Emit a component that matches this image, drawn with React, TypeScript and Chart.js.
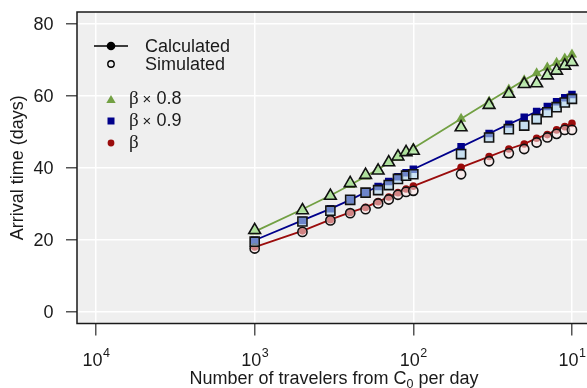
import React, { useEffect, useRef } from 'react';
import { Chart, registerables } from 'chart.js';

Chart.register(...registerables);

// ---- data ----
const travelers = [1000, 500, 333.3, 250, 200, 166.7, 142.9, 125, 111.1, 100, 50, 33.3, 25, 20, 16.7, 14.3, 12.5, 11.1, 10];
const calcBeta08 = [22.3, 28.5, 32.3, 35.2, 37.6, 39.6, 41.3, 42.8, 44.2, 45.4, 53.6, 58.4, 61.7, 64.3, 66.2, 67.8, 69.1, 70.3, 71.4];
const simBeta08 = [22.7, 28.2, 32.2, 35.7, 38.0, 39.2, 41.5, 43.1, 44.3, 44.7, 51.2, 57.4, 60.5, 63.2, 63.4, 65.6, 66.9, 68.3, 69.3];
const calcBeta09 = [19.9, 25.4, 28.6, 31.1, 33.2, 34.8, 36.2, 37.5, 38.6, 39.6, 45.8, 49.5, 52.1, 54.0, 55.6, 57.0, 58.3, 59.4, 60.3];
const simBeta09 = [19.5, 25.1, 28.1, 31.1, 33.1, 33.8, 35.2, 36.9, 37.8, 38.2, 43.8, 48.4, 50.7, 51.7, 53.5, 55.4, 56.8, 58.1, 59.1];
const calcBeta10 = [18.0, 22.5, 25.6, 27.6, 29.0, 30.6, 31.9, 33.1, 34.1, 34.9, 40.1, 43.1, 45.2, 46.6, 48.2, 49.2, 50.5, 51.4, 52.3];
const simBeta10 = [17.6, 22.2, 25.4, 27.4, 28.5, 30.1, 31.2, 32.5, 33.3, 33.6, 38.2, 41.8, 44.0, 45.2, 47.0, 48.4, 49.4, 50.5, 50.5];

const xTickExponents = [4, 3, 2, 1];
const yTicks = [0, 20, 40, 60, 80];
const legendTypeLabels = ['Calculated', 'Simulated'];
const legendBetaFactors = ['0.8', '0.9', ''];

// ---- style ----
const FONT = '"Liberation Sans", Arial, Helvetica, sans-serif';
const SERIF = '"Liberation Serif", "DejaVu Serif", serif';
const BG = '#efefef';
const TEXT = '#1a1a1a';
const GREEN = '#72a043';
const NAVY = '#00008b';
const RED = '#9a0c0c';
const SIM_GREEN = 'rgba(182,232,168,0.88)';
const SIM_BLUE = 'rgba(176,214,240,0.62)';
const SIM_RED = 'rgba(255,232,232,0.55)';

const pts = (ys: number[]) => travelers.map((x, i) => ({ x, y: ys[i] }));

function drawMarker(ctx: CanvasRenderingContext2D, kind: string, x: number, y: number, r: number) {
  ctx.beginPath();
  if (kind === 'triangle') {
    ctx.moveTo(x, y - r);
    ctx.lineTo(x + r * 0.866, y + r * 0.5);
    ctx.lineTo(x - r * 0.866, y + r * 0.5);
    ctx.closePath();
  } else if (kind === 'rect') {
    ctx.rect(x - r, y - r, 2 * r, 2 * r);
  } else {
    ctx.arc(x, y, r, 0, Math.PI * 2);
  }
}

const customPlugin = {
  id: 'customDecor',
  beforeDraw(chart: any) {
    const { ctx, chartArea: a } = chart;
    ctx.save();
    ctx.fillStyle = BG;
    ctx.fillRect(a.left, a.top, a.right - a.left, a.bottom - a.top);
    ctx.restore();
  },
  afterDraw(chart: any) {
    const { ctx, chartArea: a, scales } = chart;
    const xs = scales.x;
    const ys = scales.y;
    ctx.save();
    // plot box
    ctx.strokeStyle = TEXT;
    ctx.lineWidth = 1.5;
    ctx.strokeRect(a.left, a.top, a.right - a.left, a.bottom - a.top);

    ctx.fillStyle = TEXT;

    // y tick labels
    ctx.font = `18px ${FONT}`;
    ctx.textAlign = 'right';
    ctx.textBaseline = 'middle';
    for (const v of yTicks) {
      ctx.fillText(String(v), 53.5, ys.getPixelForValue(v) + 1);
    }

    // x tick labels 10^n
    ctx.textBaseline = 'alphabetic';
    ctx.textAlign = 'left';
    for (const e of xTickExponents) {
      const px = xs.getPixelForValue(Math.pow(10, e));
      ctx.font = `18px ${FONT}`;
      const w1 = ctx.measureText('10').width;
      ctx.font = `12.5px ${FONT}`;
      const w2 = ctx.measureText(String(e)).width;
      const start = px - (w1 + w2) / 2;
      ctx.font = `18px ${FONT}`;
      ctx.fillText('10', start, 366);
      ctx.font = `12.5px ${FONT}`;
      ctx.fillText(String(e), start + w1 + 0.5, 357);
    }

    // x title with subscript
    const p1 = 'Number of travelers from C';
    const p2 = '0';
    const p3 = ' per day';
    ctx.font = `18px ${FONT}`;
    const w1 = ctx.measureText(p1).width;
    const w3 = ctx.measureText(p3).width;
    ctx.font = `12.5px ${FONT}`;
    const w2 = ctx.measureText(p2).width;
    const cx = (a.left + a.right) / 2;
    const sx = cx - (w1 + w2 + w3) / 2;
    const by = 384;
    ctx.font = `18px ${FONT}`;
    ctx.fillText(p1, sx, by);
    ctx.font = `12.5px ${FONT}`;
    ctx.fillText(p2, sx + w1, by + 4);
    ctx.font = `18px ${FONT}`;
    ctx.fillText(p3, sx + w1 + w2, by);

    // legend
    const mx = 111;
    ctx.textBaseline = 'middle';
    ctx.strokeStyle = '#000';
    ctx.fillStyle = '#000';
    ctx.lineWidth = 1.6;
    ctx.beginPath();
    ctx.moveTo(94, 46);
    ctx.lineTo(128, 46);
    ctx.stroke();
    drawMarker(ctx, 'circle', mx, 46, 4.3);
    ctx.fill();
    drawMarker(ctx, 'circle', mx, 64, 3.2);
    ctx.lineWidth = 1.4;
    ctx.stroke();
    ctx.font = `18px ${FONT}`;
    ctx.fillStyle = TEXT;
    ctx.fillText(legendTypeLabels[0], 145, 47);
    ctx.fillText(legendTypeLabels[1], 145, 65);

    const kinds = ['triangle', 'rect', 'circle'];
    const cols = [GREEN, NAVY, RED];
    const rows = [99, 121, 143];
    const sizes = [5.4, 3.5, 3.4];
    kinds.forEach((k, i) => {
      ctx.fillStyle = cols[i];
      drawMarker(ctx, k, mx, rows[i] + (k === 'triangle' ? 1.3 : 0), sizes[i]);
      ctx.fill();
      ctx.fillStyle = TEXT;
      ctx.font = `19px ${SERIF}`;
      ctx.fillText('β', 129, rows[i]);
      if (legendBetaFactors[i]) {
        ctx.font = `15px ${FONT}`;
        ctx.fillText('×', 142.5, rows[i] + 1);
        ctx.font = `18px ${FONT}`;
        ctx.fillText(legendBetaFactors[i], 156.5, rows[i]);
      }
    });
    ctx.restore();
  },
};

export default function App() {
  const ref = useRef<HTMLCanvasElement | null>(null);
  useEffect(() => {
    if (!ref.current) return;
    const chart = new Chart(ref.current, {
      type: 'scatter',
      data: {
        datasets: [
          { label: 'sim β×0.8', data: pts(simBeta08), showLine: false, pointStyle: 'triangle', pointRadius: 6.8, pointBackgroundColor: SIM_GREEN, pointBorderColor: '#111', pointBorderWidth: 1.6, order: 0 },
          { label: 'sim β×0.9', data: pts(simBeta09), showLine: false, pointStyle: 'rect', pointRadius: 6.4, pointBackgroundColor: SIM_BLUE, pointBorderColor: '#111', pointBorderWidth: 1.6, order: 0 },
          { label: 'sim β', data: pts(simBeta10), showLine: false, pointStyle: 'circle', pointRadius: 4.6, pointBackgroundColor: SIM_RED, pointBorderColor: '#111', pointBorderWidth: 1.6, order: 0 },
          { label: 'calc β×0.8', data: pts(calcBeta08), showLine: true, borderColor: GREEN, borderWidth: 1.8, pointStyle: 'triangle', pointRadius: 6, pointBackgroundColor: GREEN, pointBorderColor: GREEN, pointBorderWidth: 0, order: 1 },
          { label: 'calc β×0.9', data: pts(calcBeta09), showLine: true, borderColor: NAVY, borderWidth: 1.8, pointStyle: 'rect', pointRadius: 5.3, pointBackgroundColor: NAVY, pointBorderColor: NAVY, pointBorderWidth: 0, order: 1 },
          { label: 'calc β', data: pts(calcBeta10), showLine: true, borderColor: RED, borderWidth: 1.8, pointStyle: 'circle', pointRadius: 3.8, pointBackgroundColor: RED, pointBorderColor: RED, pointBorderWidth: 0, order: 1 },
        ],
      },
      options: {
        responsive: false,
        animation: false,
        devicePixelRatio: 1,
        layout: { padding: { top: 12, right: 9, left: 0, bottom: 0 } },
        plugins: { legend: { display: false }, tooltip: { enabled: false } },
        scales: {
          x: {
            type: 'logarithmic',
            reverse: true,
            min: Math.pow(10, 0.88),
            max: Math.pow(10, 4.12),
            afterBuildTicks: (s: any) => { s.ticks = xTickExponents.map((e) => ({ value: Math.pow(10, e) })); },
            afterFit: (s: any) => { s.height = 64.5; },
            ticks: { display: false },
            grid: { color: '#ffffff', lineWidth: 1.5, tickColor: '#555', tickLength: 12, drawTicks: true },
            border: { display: false },
          },
          y: {
            type: 'linear',
            min: -3.2,
            max: 83.2,
            afterBuildTicks: (s: any) => { s.ticks = yTicks.map((v) => ({ value: v })); },
            afterFit: (s: any) => { s.width = 77; },
            ticks: { display: false },
            grid: { color: '#ffffff', lineWidth: 1.5, tickColor: '#555', tickLength: 11, drawTicks: true },
            border: { display: false },
            title: { display: true, text: 'Arrival time (days)', color: TEXT, font: { family: FONT, size: 18 }, padding: { top: 7, bottom: 0 } },
          },
        },
      },
      plugins: [customPlugin],
    } as any);
    return () => chart.destroy();
  }, []);
  return (
    <div style={{ position: 'fixed', left: 0, top: 0, width: 587, height: 388, overflow: 'hidden', background: '#fff' }}>
      <canvas ref={ref} width={600} height={388} style={{ display: 'block', width: 600, height: 388 }} />
    </div>
  );
}
